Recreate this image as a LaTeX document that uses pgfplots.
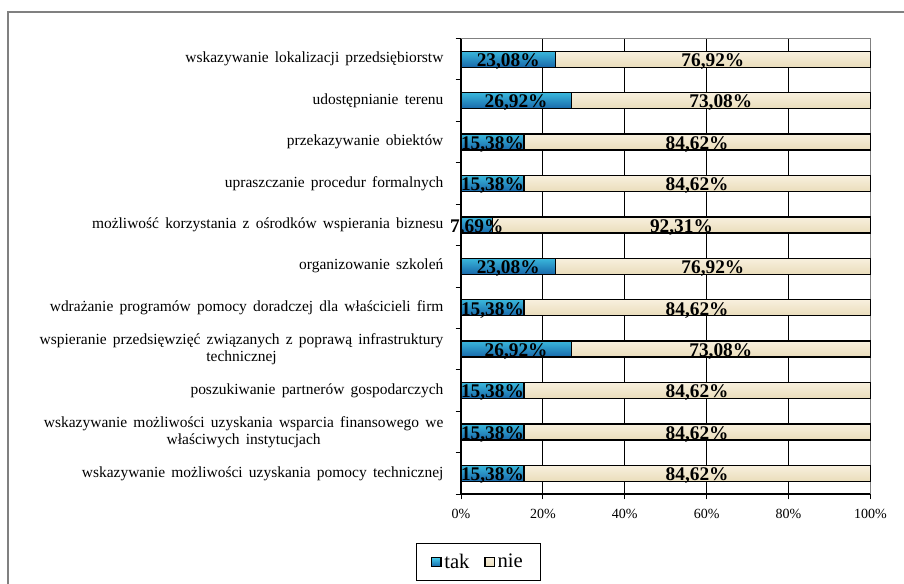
\documentclass[border=0pt]{standalone}
\usepackage{pgfplots}
\pgfplotsset{compat=1.18}
\usepackage{pgfplotstable}
\usepackage{fontspec}
\setmainfont{Liberation Serif}
\newfontfamily\labfont{Liberation Serif}[WordSpace=1.6]

\definecolor{takTop}{HTML}{3AB8DC}
\definecolor{takMid}{HTML}{46D0EE}
\definecolor{takBot}{HTML}{1868AA}
\definecolor{nieTop}{HTML}{F8F0DE}
\definecolor{nieBot}{HTML}{EADDBB}
\definecolor{frame}{HTML}{808080}

% y = row (0 = bottom), tak, nie, centres of segments, labels
\pgfplotstableread{
y tak nie tc nc tl nl
0 15.38 100 7.69 57.69 15,38 84,62
1 15.38 100 7.69 57.69 15,38 84,62
2 15.38 100 7.69 57.69 15,38 84,62
3 26.92 100 13.46 63.46 26,92 73,08
4 15.38 100 7.69 57.69 15,38 84,62
5 23.08 100 11.54 61.54 23,08 76,92
6 7.69 100 3.85 53.85 7,69 92,31
7 15.38 100 7.69 57.69 15,38 84,62
8 15.38 100 7.69 57.69 15,38 84,62
9 26.92 100 13.46 63.46 26,92 73,08
10 23.08 100 11.54 61.54 23,08 76,92
}\data

\begin{document}
\begin{tikzpicture}
\useasboundingbox (0,0) rectangle (678pt,437.25pt);
\draw[frame, line width=1.5pt] (6pt,-20pt) -- (6pt,428.25pt) -- (700pt,428.25pt);
\begin{axis}[
  at={(345.75pt,66.75pt)}, anchor=south west,
  scale only axis, width=307pt, height=341.6pt,
  xmin=0, xmax=100, ymin=-0.5, ymax=10.5,
  axis x line*=bottom, axis y line*=left,
  axis line style={black, line width=0.8pt},
  xtick={0,20,...,100},
  xticklabels={0\%,20\%,40\%,60\%,80\%,100\%},
  xmajorgrids, major grid style={black, line width=0.7pt},
  tick align=outside, major tick length=4pt,
  x tick style={black, line width=0.7pt},
  xticklabel style={font=\fontsize{10.5}{12}\selectfont, yshift=-4pt},
  ytick={0,...,10},
  major y tick style={draw=none},
  minor ytick={-0.5,0.5,...,10.5},
  minor y tick style={black, line width=0.7pt},
  minor tick length=4pt,
  yticklabel style={font=\labfont\fontsize{11.6}{13}\selectfont, align=center, inner sep=0pt, xshift=-9pt},
  yticklabels={
    {wskazywanie możliwości uzyskania pomocy technicznej},
    {wskazywanie możliwości uzyskania wsparcia finansowego we\\właściwych instytucjach},
    {poszukiwanie partnerów gospodarczych},
    {wspieranie przedsięwzięć związanych z poprawą infrastruktury\\technicznej},
    {wdrażanie programów pomocy doradczej dla właścicieli firm},
    {organizowanie szkoleń},
    {możliwość korzystania z ośrodków wspierania biznesu},
    {upraszczanie procedur formalnych},
    {przekazywanie obiektów},
    {udostępnianie terenu},
    {wskazywanie lokalizacji przedsiębiorstw}},
  /pgf/number format/assume math mode=true,
  clip=false,
  legend style={at={(0.042,-0.149)}, anchor=center, legend columns=2,
    draw=black, line width=0.6pt, font=\fontsize{15.5}{17}\selectfont,
    inner xsep=11pt, inner ysep=6pt,
    /tikz/every even column/.append style={column sep=9pt}},
  legend image code/.code={\draw[#1, line width=1pt] (2pt,-3.4pt) rectangle (9pt,3.4pt);},
]
\addlegendimage{draw=black, top color=takMid, bottom color=takBot}
\addlegendentry{tak}
\addlegendimage{draw=black, top color=nieTop, bottom color=nieBot}
\addlegendentry{nie}

\draw[frame, line width=1.1pt] (axis cs:0,10.5) -- (axis cs:100,10.5) -- (axis cs:100,-0.5);

% one plot per row, so that each bar gets its own shading
\pgfplotsinvokeforeach{0,...,10}{
\addplot[forget plot, xbar, bar shift=0pt, bar width=12pt, draw=black, line width=1pt,
  top color=nieTop, bottom color=nieBot, restrict y to domain=#1:#1] table[x=nie, y=y] {\data};
\addplot[forget plot, xbar, bar shift=0pt, bar width=12pt, draw=black, line width=1pt,
  top color=takTop, middle color=takMid, bottom color=takBot, restrict y to domain=#1:#1] table[x=tak, y=y] {\data};
}

\addplot[forget plot, draw=none, mark=none, point meta=explicit symbolic,
  nodes near coords={\pgfplotspointmeta\%},
  every node near coord/.append style={anchor=base, inner sep=0pt, yshift=-5.5pt,
    font=\bfseries\fontsize{14.5}{14.5}\selectfont}]
  table[x=tc, y=y, meta=tl] {\data};
\addplot[forget plot, draw=none, mark=none, point meta=explicit symbolic,
  nodes near coords={\pgfplotspointmeta\%},
  every node near coord/.append style={anchor=base, inner sep=0pt, yshift=-5.5pt,
    font=\bfseries\fontsize{14.5}{14.5}\selectfont}]
  table[x=nc, y=y, meta=nl] {\data};
\end{axis}
\end{tikzpicture}
\end{document}
